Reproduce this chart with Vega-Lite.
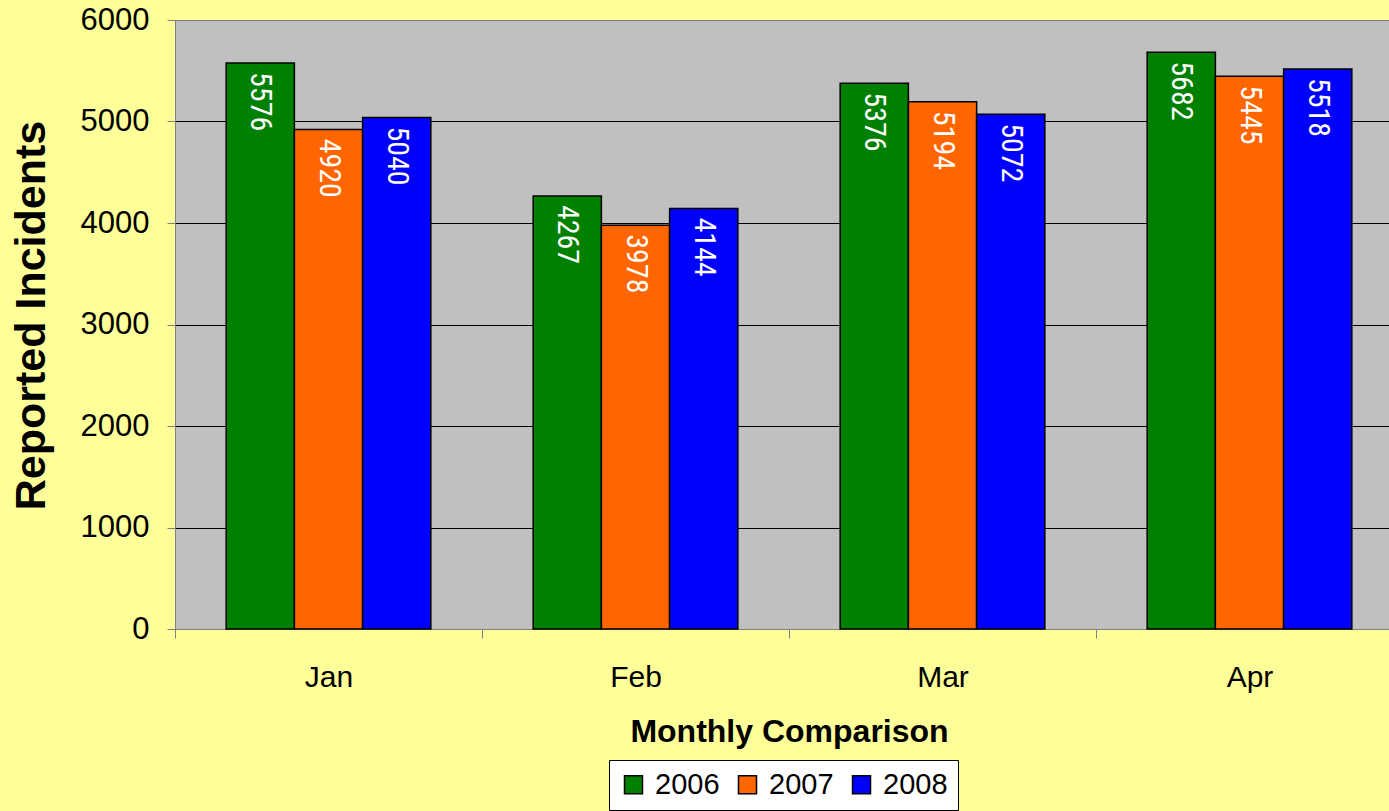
{
  "$schema": "https://vega.github.io/schema/vega-lite/v6.json",
  "width": 1214,
  "height": 609,
  "autosize": {"type": "none"},
  "padding": {"left": 175, "top": 20, "right": 0, "bottom": 182},
  "background": "#FFFF99",
  "data": {
    "values": [
      {"month": "Jan", "year": "2006", "incidents": 5576},
      {"month": "Jan", "year": "2007", "incidents": 4920},
      {"month": "Jan", "year": "2008", "incidents": 5040},
      {"month": "Feb", "year": "2006", "incidents": 4267},
      {"month": "Feb", "year": "2007", "incidents": 3978},
      {"month": "Feb", "year": "2008", "incidents": 4144},
      {"month": "Mar", "year": "2006", "incidents": 5376},
      {"month": "Mar", "year": "2007", "incidents": 5194},
      {"month": "Mar", "year": "2008", "incidents": 5072},
      {"month": "Apr", "year": "2006", "incidents": 5682},
      {"month": "Apr", "year": "2007", "incidents": 5445},
      {"month": "Apr", "year": "2008", "incidents": 5518}
    ]
  },
  "encoding": {
    "x": {
      "field": "month",
      "type": "nominal",
      "sort": ["Jan", "Feb", "Mar", "Apr"],
      "scale": {"paddingInner": 0, "paddingOuter": 0, "range": [0, 1228]},
      "axis": {
        "title": "Monthly Comparison",
        "labelAngle": 0,
        "tickBand": "extent",
        "tickSize": 9,
        "tickColor": "#808080",
        "domainColor": "#808080",
        "labelFontSize": 30,
        "labelPadding": 24,
        "titleFontSize": 32,
        "titleFontWeight": "bold",
        "titlePadding": 24,
        "grid": false
      }
    },
    "xOffset": {
      "field": "year",
      "type": "nominal",
      "scale": {"paddingInner": 0, "paddingOuter": 0.75}
    },
    "y": {
      "field": "incidents",
      "type": "quantitative",
      "scale": {"domain": [0, 6000]},
      "axis": {
        "title": "Reported Incidents",
        "values": [0, 1000, 2000, 3000, 4000, 5000, 6000],
        "format": "d",
        "tickSize": 8,
        "tickColor": "#808080",
        "domainColor": "#808080",
        "labelFontSize": 31,
        "labelPadding": 18,
        "titleFontSize": 43,
        "titleFontWeight": "bold",
        "titlePadding": 27,
        "titleY": 295,
        "grid": true,
        "gridColor": {"condition": {"test": "datum.value == 6000", "value": "#808080"}, "value": "#000000"},
        "gridOpacity": 1
      }
    }
  },
  "layer": [
    {
      "mark": {"type": "bar", "stroke": "#000000", "strokeWidth": 1.5},
      "encoding": {
        "color": {
          "field": "year",
          "type": "nominal",
          "scale": {"domain": ["2006", "2007", "2008"], "range": ["#008000", "#FF6600", "#0000FF"]},
          "legend": {
            "title": null,
            "orient": "none",
            "direction": "horizontal",
            "legendX": 434,
            "legendY": 740,
            "fillColor": "#FFFFFF",
            "strokeColor": "#000000",
            "padding": 10,
            "symbolType": "square",
            "symbolSize": 324,
            "symbolStrokeColor": "#000000",
            "symbolStrokeWidth": 1.5,
            "labelFontSize": 29,
            "labelOffset": 7,
            "columnPadding": 13
          }
        }
      }
    },
    {
      "mark": {
        "type": "text",
        "angle": 90,
        "align": "left",
        "baseline": "middle",
        "dx": 9,
        "color": "#FFFFFF",
        "font": "Roboto Condensed, DejaVu Sans Condensed",
        "fontSize": 30
      },
      "encoding": {
        "text": {"field": "incidents", "type": "quantitative", "format": "d"}
      }
    }
  ],
  "config": {
    "font": "Liberation Sans",
    "view": {"fill": "#C0C0C0", "stroke": "#808080"},
    "axis": {"labelColor": "#000000", "titleColor": "#000000"},
    "legend": {"labelColor": "#000000"}
  }
}
